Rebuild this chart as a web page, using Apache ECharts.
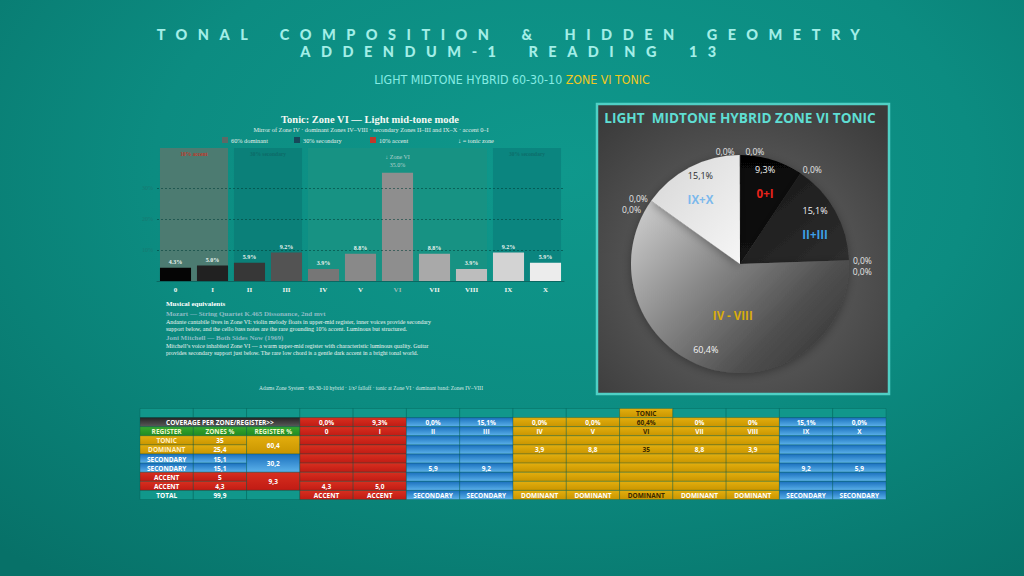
<!DOCTYPE html>
<html><head><meta charset="utf-8">
<script src="https://cdn.jsdelivr.net/npm/echarts@6/dist/echarts.min.js"></script>
<style>
html,body{margin:0;padding:0;width:1024px;height:576px;overflow:hidden;}
body{background:radial-gradient(ellipse 80% 90% at 55% 30%, #0f988c 0%, #0c8c81 50%, #077168 100%);}
#chart{position:absolute;left:0;top:0;width:1024px;height:576px;}
#hd{position:absolute;left:0;top:26px;width:1024px;padding-left:3px;box-sizing:border-box;text-align:center;font-family:Lato,'Open Sans',sans-serif;font-weight:900;font-size:14.5px;line-height:17px;letter-spacing:10.5px;word-spacing:8px;color:#a3eee7;pointer-events:none;}
</style></head>
<body>
<div id="chart"></div>
<div id="hd"><div>TONAL COMPOSITION &amp; HIDDEN GEOMETRY</div><div>ADDENDUM-1 READING 13</div></div>
<script>
// ---------- data ----------
const zones = ['0','I','II','III','IV','V','VI','VII','VIII','IX','X'];
const zoneShares = [4.3, 5.0, 5.9, 9.2, 3.9, 8.8, 35.0, 8.8, 3.9, 9.2, 5.9];
const zoneRegisters = ['ACCENT','ACCENT','SECONDARY','SECONDARY','DOMINANT','DOMINANT','DOMINANT','DOMINANT','DOMINANT','SECONDARY','SECONDARY'];
const zoneCoverage = ['0,0%','9,3%','0,0%','15,1%','0,0%','0,0%','60,4%','0%','0%','15,1%','0,0%'];
const tonicZone = 'VI';
const bandRanges = [[0,1],[2,3],[4,8],[9,10]];
const bandLabels = ['10% accent','30% secondary','','30% secondary'];
const legendLabels = ['60% dominant','30% secondary','10% accent','\u2193 = tonic zone'];
const yTicks = [10, 20, 30];
const registerNames = ['TONIC','DOMINANT','SECONDARY','SECONDARY','ACCENT','ACCENT'];
const registerZonePct = [35, 25.4, 15.1, 15.1, 5, 4.3];
const registerGroupPct = [60.4, 30.2, 9.3];
const registerTotal = 99.9;
const tableHeaders = ['REGISTER','ZONES %','REGISTER %'];
const pieNames  = ['', '0+I', '', 'II+III', '', '', 'IV - VIII', '', '', 'IX+X', ''];
const pieValues = [0, 9.3, 0, 15.1, 0, 0, 60.4, 0, 0, 15.1, 0];
const musicalTitle = 'Musical equivalents';
const musicalPieces = [
  {title:'Mozart \u2014 String Quartet K.465 Dissonance, 2nd mvt', lines:[
    'Andante cantabile lives in Zone VI: violin melody floats in upper-mid register, inner voices provide secondary',
    'support below, and the cello bass notes are the rare grounding 10% accent. Luminous but structured.']},
  {title:'Joni Mitchell \u2014 Both Sides Now (1969)', lines:[
    'Mitchell\u2019s voice inhabited Zone VI \u2014 a warm upper-mid register with characteristic luminous quality. Guitar',
    'provides secondary support just below. The rare low chord is a gentle dark accent in a bright tonal world.']}
];
const footerText = 'Adams Zone System \u00b7 60-30-10 hybrid \u00b7 1/x\u00b2 falloff \u00b7 tonic at Zone VI \u00b7 dominant band: Zones IV\u2013VIII';

// ---------- styles ----------
const SERIF = '"Liberation Serif","DejaVu Serif",serif';
const SANS = '"Open Sans","Noto Sans",sans-serif';
const COND = '"DejaVu Sans Condensed","Liberation Sans Narrow",sans-serif';
const barPalette = ['#050505','#212121','#373737','#535353','#767676','#898989','#8e8e8e','#a9a9a9','#bdbdbd','#d3d3d3','#ececec'];
const bandFill = ['#4c7b71','#0b8079','#179283','#0b857f'];
const bandTextColor = ['#c0392b','#0d6b68','#179283','#0d6e6b'];
const legendColors = ['#5b6a66','#17485a','#c0392b', null];
const G = (a,b) => new echarts.graphic.LinearGradient(0,0,0,1,[{offset:0,color:a},{offset:1,color:b}]);
const tableFills = {
  teal:'#11978b', gold:G('#e3ae0e','#c99500'), red:G('#d82f1f','#c01b14'),
  blue:G('#1a6fbd','#5cb2ea'), dark:G('#252525','#5a5a5a'), green:G('#36a82f','#1f8a22')
};
const tableText = {w:'#ffffff', d:'#3a2800', y:'#eef7cc', c:'#fff1c6'};
const pieFill = {
  '0+I': G('#050505','#141414'),
  'II+III': new echarts.graphic.LinearGradient(0,0,1,1,[{offset:0,color:'#161616'},{offset:1,color:'#2f2f2f'}]),
  'IV - VIII': new echarts.graphic.LinearGradient(0,0.15,1,0.9,[{offset:0,color:'#c6c6c6'},{offset:0.35,color:'#8a8a8a'},{offset:0.7,color:'#515151'},{offset:1,color:'#333333'}]),
  'IX+X': new echarts.graphic.LinearGradient(0,0,1,1,[{offset:0,color:'#d6d6d6'},{offset:1,color:'#f6f6f6'}])
};
const pieNameColor = {'0+I':'#e8231b','II+III':'#3d9fe6','IV - VIII':'#d9ac0c','IX+X':'#7cb9ec'};
const pieValueColor = {'0+I':'#f4f4f4','II+III':'#f4f4f4','IV - VIII':'#f4f4f4','IX+X':'#2a2a2a'};

// ---------- helpers ----------
const fmtPct = v => v.toFixed(1).replace('.', ',') + '%';
const fmtReg = v => String(v).replace('.', ',');
const fmtZone = v => (Number.isInteger(v) && v >= 10) ? String(v) : v.toFixed(1).replace('.', ',');
const regKey = r => r === 'ACCENT' ? 'red' : (r === 'SECONDARY' ? 'blue' : 'gold');
const colKey = zoneRegisters.map(regKey);
const txtKey = i => zones[i] === tonicZone ? 'd' : 'w';
function T(x, y, text, font, fill, align) {
  align = align || 'left';
  return {type:'text', silent:true, style:{text, x, y, font, fill, textAlign:align, align, textVerticalAlign:'middle', verticalAlign:'middle'}};
}

// ---------- table cells ----------
const cells = [];
for (let c = 0; c < 3; c++) cells.push([c,0,1,1,'teal','','w']);
zones.forEach((z,i) => cells.push([3+i,0,1,1, z===tonicZone?'gold':'teal', z===tonicZone?'TONIC':'', 'd']));
cells.push([0,1,3,1,'dark','COVERAGE PER ZONE/REGISTER>>','w']);
zones.forEach((z,i) => cells.push([3+i,1,1,1,colKey[i],zoneCoverage[i],txtKey(i)]));
tableHeaders.forEach((h,c) => cells.push([c,2,1,1,'green',h,'y']));
zones.forEach((z,i) => cells.push([3+i,2,1,1,colKey[i],z,txtKey(i)]));
registerNames.forEach((n,k) => {
  const key = regKey(n);
  cells.push([0,3+k,1,1,key,n,key==='gold'?'c':'w']);
  cells.push([1,3+k,1,1,key,fmtReg(registerZonePct[k]),'w']);
});
registerGroupPct.forEach((v,g) => cells.push([2,3+2*g,1,2,regKey(registerNames[2*g]),fmtReg(v),'w']));
const valueRowOf = {DOMINANT:4, SECONDARY:6, ACCENT:8};
zones.forEach((z,i) => {
  for (let r = 3; r <= 8; r++) cells.push([3+i,r,1,1,colKey[i], r===valueRowOf[zoneRegisters[i]] ? fmtZone(zoneShares[i]) : '', txtKey(i)]);
});
cells.push([0,9,1,1,'teal','TOTAL','w']);
cells.push([1,9,1,1,'teal',fmtReg(registerTotal),'w']);
cells.push([2,9,1,1,'teal','','w']);
zones.forEach((z,i) => cells.push([3+i,9,1,1,colKey[i],zoneRegisters[i],txtKey(i)]));

// ---------- graphics (texts) ----------
const Y_MAX = 43;
const graphics = [
  {type:'text', silent:true, style:{x:512, y:80, textAlign:'center', align:'center', textVerticalAlign:'middle', verticalAlign:'middle',
    text:'{a|LIGHT MIDTONE HYBRID 60-30-10 }{b|ZONE VI TONIC}',
    rich:{a:{fill:'#86ece4', color:'#86ece4', font:'12.3px '+COND},
          b:{fill:'#f2c81e', color:'#f2c81e', font:'12.3px '+COND}}}},
  T(370,119,'Tonic: Zone VI \u2014 Light mid-tone mode','bold 10.5px '+SERIF,'#f4f8f4','center'),
  T(371,129,'Mirror of Zone IV \u00b7 dominant Zones IV\u2013VIII \u00b7 secondary Zones II\u2013III and IX\u2013X \u00b7 accent 0\u2013I','6.3px '+SERIF,'#e2efeb','center'),
  T(166,304,musicalTitle,'bold 7px '+SERIF,'#ffffff'),
  T(371,388,footerText,'5.4px '+SERIF,'#dcece8','center'),
  {type:'rect', silent:true, shape:{x:597,y:104,width:292,height:290},
    style:{fill:new echarts.graphic.RadialGradient(0.5,0.57,0.7,[{offset:0,color:'#6a6a6a'},{offset:0.6,color:'#4f4f4f'},{offset:1,color:'#3b3b3b'}]),
      stroke:'#4fd0c5', lineWidth:2.5}},
  T(740,117,'LIGHT  MIDTONE HYBRID ZONE VI TONIC','bold 13.6px '+SANS,'#5fded3','center')
];
const legendX = [222, 294, 370, 455];
legendLabels.forEach((l,i) => {
  if (legendColors[i]) graphics.push({type:'rect', silent:true, shape:{x:legendX[i],y:137,width:6,height:6}, style:{fill:legendColors[i]}});
  graphics.push(T(legendX[i] + (legendColors[i] ? 9 : 3), 140, l, '6.3px '+SERIF, '#e6f0ec'));
});
let ty = 314;
musicalPieces.forEach(p => {
  graphics.push(T(166, ty, p.title, 'bold 7px '+SERIF, '#8fbcc6'));
  ty += 8;
  p.lines.forEach(line => { graphics.push(T(166, ty, line, '6px '+SERIF, '#eef5f1')); ty += 7; });
  ty += 2;
});

// ---------- chart ----------
const chart = echarts.init(document.getElementById('chart'), null, {renderer:'svg', width:1024, height:576});
// tiny angular gap so the zero slices at 12 o'clock fall on both sides of the top
const pieBase = {type:'pie', center:[740,264], startAngle:89.8, endAngle:-269.8, clockwise:true, silent:true, animation:false};
const pieRich = {
  v:{fontSize:9, fontFamily:SANS, lineHeight:24},
  n:{fontSize:11.5, fontWeight:'bold', fontFamily:SANS, lineHeight:24}
};
function pieLabelRich(name) {
  return {v:Object.assign({}, pieRich.v, {color:pieValueColor[name]}), n:Object.assign({}, pieRich.n, {color:pieNameColor[name]}),
          vb:Object.assign({}, pieRich.v, {color:pieValueColor[name], padding:[0,27,0,0], lineHeight:34}),
          nb:Object.assign({}, pieRich.n, {color:pieNameColor[name], padding:[0,0,0,27], lineHeight:34})};
}
chart.setOption({
  backgroundColor:'transparent',
  animation:false,
  graphic: graphics,
  grid:[
    {left:157, right:460, top:148, bottom:295},
    {left:140, right:138, top:408.5, bottom:76.5}
  ],
  xAxis:[
    {gridIndex:0, type:'category', data: zones.map(z => z===tonicZone ? {value:z, textStyle:{color:'#9cbab6'}} : z),
     axisLine:{lineStyle:{color:'#0a6862', width:1}}, axisTick:{show:false},
     axisLabel:{color:'#f2f6f2', fontFamily:SERIF, fontWeight:'bold', fontSize:7, margin:5}},
    {gridIndex:1, type:'category', data: Array.from({length:14}, (_,i) => i), show:false}
  ],
  yAxis:[
    {gridIndex:0, type:'value', min:0, max:Y_MAX, interval:10, splitLine:{show:false}, axisLine:{show:false}, axisTick:{show:false},
     axisLabel:{color:'#177a71', fontSize:6, fontFamily:SERIF, margin:4, formatter: v => yTicks.includes(v) ? v + '%' : ''}},
    {gridIndex:1, type:'category', inverse:true, data: Array.from({length:10}, (_,i) => i), show:false}
  ],
  series:[
    {type:'custom', xAxisIndex:0, yAxisIndex:0, z:1, silent:true,
     data: bandRanges.map(r => [r[0], r[1], Y_MAX]), encode:{x:[0,1], y:2},
     renderItem(params, api) {
       const i = params.dataIndex, r = bandRanges[i];
       const bw = api.size([1,0])[0] * 0.84;
       const a = api.coord([r[0], Y_MAX]), b = api.coord([r[1], 0]);
       const x = a[0] - bw/2, w = b[0] + bw/2 - x, y = a[1], h = b[1] - a[1];
       return {type:'group', children:[
         {type:'rect', shape:{x, y, width:w, height:h}, style:{fill:bandFill[i]}},
         {type:'text', style:{text:bandLabels[i], x:x+w/2, y:y+6, fill:bandTextColor[i], font:'bold 5.5px '+SERIF,
           textAlign:'center', align:'center', textVerticalAlign:'middle', verticalAlign:'middle'}}
       ]};
     }},
    {type:'bar', xAxisIndex:0, yAxisIndex:0, z:3, barWidth:'84%', silent:true,
     data: zoneShares.map((v,i) => {
       const item = {value:v, itemStyle:{color:barPalette[i]}};
       if (zones[i] === tonicZone) item.label = {formatter:'\u2193 Zone ' + tonicZone + '\n' + v.toFixed(1) + '%', color:'#b5d3cf', fontWeight:'normal', lineHeight:8, distance:4};
       return item;
     }),
     label:{show:true, position:'top', distance:3, color:'#eaf3ef', fontFamily:SERIF, fontWeight:'bold', fontSize:6, formatter: p => p.value.toFixed(1) + '%'},
     markLine:{silent:true, symbol:'none', label:{show:false}, lineStyle:{color:'rgba(0,60,55,0.55)', type:[2,2], width:1},
       data: yTicks.map(v => ({yAxis:v}))}},
    {type:'custom', xAxisIndex:1, yAxisIndex:1, silent:true, z:2,
     data: cells.map(c => [c[0], c[1]]), encode:{x:0, y:1},
     renderItem(params, api) {
       const c = cells[params.dataIndex];
       const p = api.coord([c[0], c[1]]), s = api.size([1,1]);
       const x = p[0] - s[0]/2, y = p[1] - s[1]/2, w = s[0]*c[2], h = s[1]*c[3];
       return {type:'group', children:[
         {type:'rect', shape:{x, y, width:w, height:h}, style:{fill:tableFills[c[4]], stroke:'rgba(0,85,75,0.5)', lineWidth:0.6}},
         {type:'text', style:{text:c[5], x:x+w/2, y:y+h/2+0.5, fill:tableText[c[6]], font:'bold 6.5px '+SANS,
           textAlign:'center', align:'center', textVerticalAlign:'middle', verticalAlign:'middle'}}
       ]};
     }},
    Object.assign({}, pieBase, {radius:[0,109], avoidLabelOverlap:true, z:3,
      itemStyle:{borderWidth:0, shadowBlur:10, shadowOffsetY:2, shadowColor:'rgba(0,0,0,0.35)'},
      label:{show:true, position:'outside', formatter: p => fmtPct(p.value), color:'#e4e4e4', fontSize:8.5, fontFamily:SANS},
      labelLine:{show:false, length:4, length2:0},
      data: pieValues.map((v,i) => ({name:pieNames[i], value:v, itemStyle:{color: pieFill[pieNames[i]] || 'rgba(0,0,0,0)'}, label:{show: v === 0}}))}),
    Object.assign({}, pieBase, {radius:[57,109], z:4, itemStyle:{color:'rgba(0,0,0,0)'}, labelLine:{show:false},
      label:{show:true, position:'inside', formatter: p => '{v|' + fmtPct(p.value) + '}\n{n|' + p.name + '}'},
      data: pieValues.map((v,i) => ({name:pieNames[i], value:v, label:{show: v > 0 && v < 50, rich:pieLabelRich(pieNames[i])}}))}),
    Object.assign({}, pieBase, {radius:[29,109], z:4, itemStyle:{color:'rgba(0,0,0,0)'}, labelLine:{show:false},
      label:{show:true, position:'inside', formatter: p => '{nb|' + p.name + '}\n{vb|' + fmtPct(p.value) + '}'},
      data: pieValues.map((v,i) => ({name:pieNames[i], value:v, label:{show: v >= 50, rich:pieLabelRich(pieNames[i])}}))})
  ]
});
</script>
</body></html>
